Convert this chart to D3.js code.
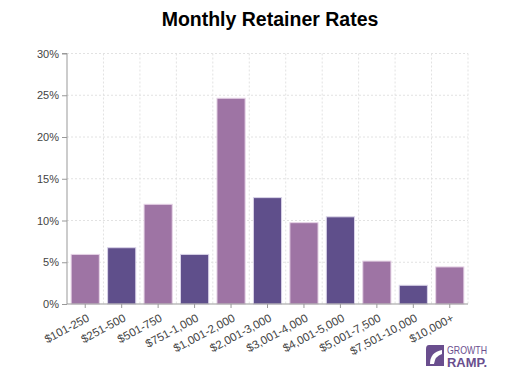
<!DOCTYPE html>
<html><head><meta charset="utf-8">
<script src="https://cdn.jsdelivr.net/npm/d3@7"></script>
<style>body{margin:0;background:#fff;}svg{display:block;font-family:"Liberation Sans",Arial,sans-serif;}</style>
</head><body>
<svg id="c" width="510" height="382"></svg>
<script>
const categories = ["$101-250","$251-500","$501-750","$751-1,000","$1,001-2,000","$2,001-3,000","$3,001-4,000","$4,001-5,000","$5,001-7,500","$7,501-10,000","$10,000+"];
const values = [6.0, 6.8, 12.0, 6.0, 24.7, 12.8, 9.8, 10.5, 5.2, 2.3, 4.5];
const barShade = ["light","dark","light","dark","light","dark","light","dark","light","dark","light"];
const yTicks = [0, 5, 10, 15, 20, 25, 30];

(function () {
const svg = d3.select("#c");
const pL = 67, pR = 468, pT = 53.5, pB = 304;
const x = d3.scaleBand().domain(categories).range([pL, pR]).paddingInner(0.2).paddingOuter(0.1);
const y = d3.scaleLinear().domain([0, 30]).range([pB, pT]);
const fill = {light: "#9e74a4", dark: "#5f4f8b"};
const stroke = {light: "#e6d3e6", dark: "#d9d3e8"};

svg.append("text").attr("x", 270).attr("y", 26).attr("text-anchor", "middle")
  .attr("font-size", 19.5).attr("font-weight", "bold").attr("fill", "#000").text("Monthly Retainer Rates");

// grid
const step = x.step();
const gv = svg.append("g");
yTicks.filter(t => t > 0).forEach(t => {
  gv.append("line").attr("x1", pL).attr("x2", pR).attr("y1", y(t)).attr("y2", y(t))
    .attr("stroke", "#e2e2e2").attr("stroke-dasharray", "2,2");
});
categories.forEach((c, i) => {
  const xx = pL + step * (i + 1);
  gv.append("line").attr("x1", xx).attr("x2", xx).attr("y1", pT).attr("y2", pB)
    .attr("stroke", "#e2e2e2").attr("stroke-dasharray", "2,2");
});

// bars
svg.append("g").selectAll("rect").data(values).join("rect")
  .attr("x", (d, i) => x(categories[i]) + 0.5)
  .attr("width", x.bandwidth() - 1)
  .attr("y", d => y(d) + 0.5)
  .attr("height", d => pB - y(d) - 0.5)
  .attr("fill", (d, i) => fill[barShade[i]])
  .attr("stroke", (d, i) => stroke[barShade[i]]).attr("stroke-width", 1);

// y axis
const ya = svg.append("g").attr("transform", `translate(${pL},0)`)
  .call(d3.axisLeft(y).tickValues(yTicks).tickFormat(d => d + "%").tickSize(5).tickPadding(3));
ya.select(".domain").attr("stroke", "#999").attr("d", `M-5,${pT}H0V${pB}`);
ya.selectAll(".tick line").attr("stroke", "#999");
ya.selectAll("text").attr("font-size", 11).attr("fill", "#444").attr("font-family", "Liberation Sans, Arial, sans-serif");

// x axis
const xa = svg.append("g").attr("transform", `translate(0,${pB})`)
  .call(d3.axisBottom(x).tickSize(4).tickPadding(2));
xa.select(".domain").attr("stroke", "#999").attr("d", `M${pL},0H${pR}`);
xa.selectAll(".tick line").attr("stroke", "#999");
xa.selectAll("text").attr("font-size", 11.5).attr("fill", "#444")
  .attr("font-family", "Liberation Sans, Arial, sans-serif")
  .attr("text-anchor", "end").attr("x", 0).attr("y", 0).attr("dy", "0.35em")
  .attr("transform", "translate(3,13) rotate(-28)");

// logo
const lg = svg.append("g").attr("transform", "translate(426,345)");
lg.append("path").attr("d", "M3,0H18V21H0V4Q0,0,3,0Z").attr("fill", "#6a4e8e");
lg.append("path").attr("d", "M4,19Q4,7,16,5V9Q9,11,8,19Z").attr("fill", "#fff");
lg.append("text").attr("x", 21).attr("y", 8.5).attr("font-size", 11).attr("fill", "#6a4e8e")
  .attr("textLength", 40).attr("lengthAdjust", "spacingAndGlyphs").text("GROWTH");
lg.append("text").attr("x", 21).attr("y", 22).attr("font-size", 12).attr("font-weight", "bold").attr("fill", "#6a4e8e")
  .attr("textLength", 40).attr("lengthAdjust", "spacingAndGlyphs").text("RAMP.");
})();
</script>
</body></html>
